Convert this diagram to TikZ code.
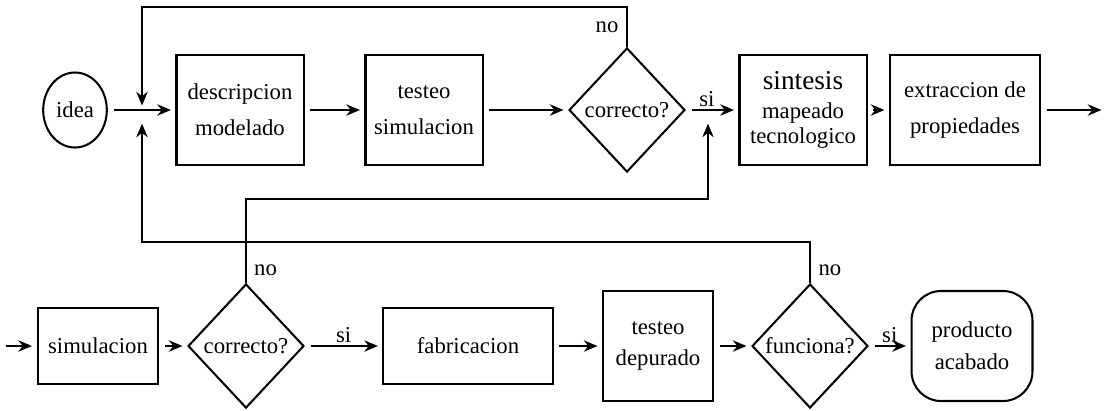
\documentclass[tikz,border=0pt]{standalone}
\usepackage{fontspec}
\setmainfont{Liberation Serif}
\usetikzlibrary{shapes.geometric,arrows.meta}

\begin{document}
\begin{tikzpicture}[
		x=0.44pt, y=-0.44pt,
		font=\fontsize{10}{16}\selectfont,
		box/.style={rectangle, draw, line width=0.9pt, align=center, inner sep=0pt},
		decision/.style={diamond, draw, line width=0.9pt, inner sep=0pt, minimum width=51pt, minimum height=54.6pt},
		flow/.style={-{Stealth[length=6pt,width=5pt]}, line width=0.9pt, shorten >=2pt, shorten <=2.5pt},
		thinflow/.style={flow, line width=0.5pt}
	]
  \useasboundingbox (0,0) rectangle (1106,410);
  % fila de arriba
  \node (idea) [ellipse, draw, line width=0.9pt, minimum width=28pt, minimum height=33pt, inner sep=0pt] at (75,110) {idea};
  \node (desc) [box, minimum width=55.9pt, minimum height=48.8pt] at (240,110) {descripcion\\modelado};
  \node (tsim) [box, minimum width=51.5pt, minimum height=48.8pt] at (424,110) {testeo\\simulacion};
  \node (c1) [decision] at (627,110) {correcto?};
  \node (sint) [box, minimum width=55.9pt, minimum height=48.8pt, font=\fontsize{10}{11}\selectfont] at (803,110) {{\large sintesis}\\[2pt]mapeado\\tecnologico};
  \node (ext) [box, minimum width=66pt, minimum height=48.8pt] at (965,110) {extraccion de\\propiedades};
  \coordinate (out) at (1106,110);
  \coordinate (j1) at (142,110);
  \coordinate (j2) at (708,110);
  \coordinate (topl) at (142,7);
  % fila de abajo
  \coordinate (in) at (0,346);
  \node (sim) [box, minimum width=53.2pt, minimum height=33.4pt] at (98,346) {simulacion};
  \node (c2) [decision] at (246,346) {correcto?};
  \node (fab) [box, minimum width=74.4pt, minimum height=33.4pt] at (468,346) {fabricacion};
  \node (tdep) [box, minimum width=48.4pt, minimum height=48.4pt, font=\fontsize{10}{14}\selectfont] at (658,346) {testeo\\depurado};
  \node (c3) [decision] at (810,346) {funciona?};
  \node (prod) [box, rounded corners=13pt, minimum width=53.2pt, minimum height=48.4pt, font=\fontsize{10}{14}\selectfont] at (972,346) {producto\\acabado};
  \coordinate (botl) at (142,242);
  \coordinate (midl) at (708,199);

  \draw[flow] (idea) -- (desc);
  \draw[flow] (desc) -- (tsim);
  \draw[flow] (tsim) -- (c1);
  \draw[flow] (c1) -- node[above, pos=0.4, inner sep=1pt] {si} (sint);
  \draw[flow] (sint) -- (ext);
  \draw[flow] (ext) -- (out);
  \draw[flow, shorten <=0pt, shorten >=0pt] (c1.north) -- node[left] {no} (c1.north |- topl) -- (topl) -- ([yshift=2pt]j1);
  \draw[flow, shorten <=0pt, shorten >=0pt] (c3.north) -- node[right, pos=0.3] {no} (c3.north |- botl) -- (botl) -- ([yshift=-6pt]j1);
  \draw[thinflow, shorten <=0pt, shorten >=0pt] (c2.north) -- node[right, pos=0.15] {no} (c2.north |- midl) -| ([yshift=-6pt]j2);

  \draw[flow] (in) -- (sim);
  \draw[flow] (sim) -- (c2);
  \draw[thinflow] (c2) -- node[above, inner sep=1pt] {si} (fab);
  \draw[thinflow] (fab) -- (tdep);
  \draw[flow] (tdep) -- (c3);
  \draw[flow] (c3) -- node[above, inner sep=1pt] {si} (prod);
\end{tikzpicture}
\end{document}
